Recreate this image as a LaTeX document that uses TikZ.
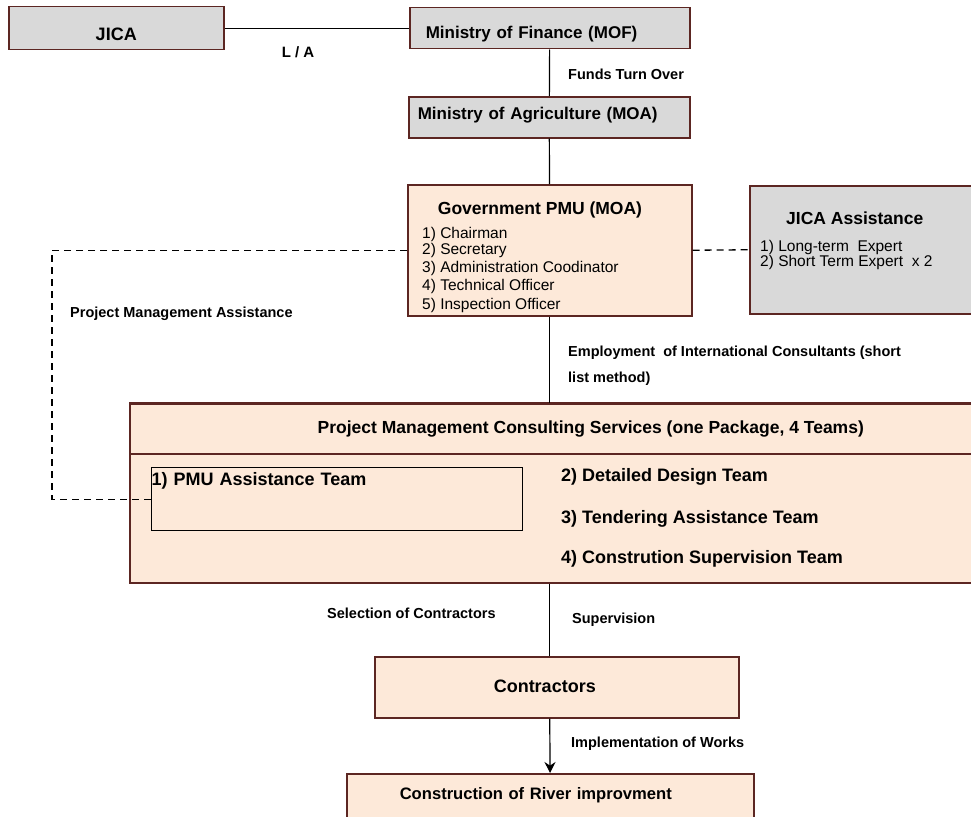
\documentclass[tikz,border=0pt]{standalone}
\usepackage{fontspec}
\setmainfont{Liberation Sans}
\usetikzlibrary{arrows.meta}

\definecolor{boxgray}{RGB}{217,217,217}
\definecolor{boxpeach}{RGB}{253,233,217}
\definecolor{boxedge}{RGB}{92,38,34}

\begin{document}
\begin{tikzpicture}[
        x=1pt, y=-1pt,
        box/.style={
            draw=boxedge,
            line width=1.5pt,
            anchor=north west,
            inner xsep=0pt,
            inner ysep=0pt
        },
        office/.style={
            box,
            fill=boxgray,
            font=\fontsize{17}{20}\selectfont\bfseries
        },
        unit/.style={
            box,
            fill=boxpeach,
            font=\fontsize{18}{21}\selectfont\bfseries,
            align=center
        },
        heading/.style={
            font=\fontsize{17.5}{21}\selectfont\bfseries,
            inner sep=0pt
        },
        members/.style={
            font=\fontsize{15.5}{18.3}\selectfont,
            align=left,
            inner sep=0pt,
            anchor=north west
        },
        team/.style={
            font=\fontsize{18}{21}\selectfont\bfseries,
            inner sep=0pt,
            anchor=base west
        },
        caption/.style={
            font=\fontsize{14.5}{26}\selectfont\bfseries,
            inner sep=0pt,
            anchor=base west
        },
        relation/.style={line width=1.2pt, draw=black},
        assist/.style={line width=1.3pt, draw=black,
            dash pattern=on 7pt off 5pt}
    ]
        \fill[white] (0,0) rectangle (971,816);
        \path[use as bounding box] (0,0) rectangle (971,816);
        \clip (0,0) rectangle (971,816);

        % Loan and funding chain
        \node[office, minimum width=215pt, minimum height=43pt,
            text width=215pt, align=center, text height=33.5pt,
            text depth=9.5pt, font=\fontsize{18}{21}\selectfont\bfseries]
            (jica) at (8,6) {JICA};
        \node[office, minimum width=280pt, inner xsep=16pt,
            text width=248pt, align=left, text height=31pt,
            text depth=10pt] (mof) at (409,7) {Ministry of Finance (MOF)};
        \node[office, minimum width=281pt, inner xsep=9pt,
            text width=263pt, align=left, text height=23pt,
            text depth=18pt] (moa) at (408,96)
            {Ministry of Agriculture (MOA)};

        % Government PMU and JICA support
        \node[unit, minimum width=284pt, minimum height=131pt]
            (govpmu) at (407,184) {};
        \node[heading, anchor=base] (govtitle) at (540,214)
            {Government PMU (MOA)};
        \node[members] (govlist) at (422,227) {1) Chairman\\[-2.6pt]
            2) Secretary\\
            3) Administration Coodinator\\
            4) Technical Officer\\
            5) Inspection Officer};

        \node[office, minimum width=251pt, minimum height=128pt]
            (jicaasst) at (749,185) {};
        \node[heading, anchor=base west] (jicatitle) at (786,224.3)
            {JICA Assistance};
        \node[members, font=\fontsize{15.5}{15.7}\selectfont]
            (jicalist) at (760,239.7)
            {1) Long-term\ \ Expert\\
            2) Short Term Expert\ \ x 2};

        % Consulting services package
        \node[unit, minimum width=922pt, minimum height=50pt,
            font=\fontsize{17.5}{21}\selectfont\bfseries]
            (pmcshead) at (129,403)
            {Project Management Consulting Services (one Package, 4 Teams)};
        \node[unit, minimum width=922pt, minimum height=129pt]
            (pmcs) at (129,453) {};
        \draw[boxedge, line width=2.6pt]
            (pmcshead.north west) -- (pmcshead.north east);

        \node[draw=black, line width=1.4pt, anchor=north west,
            inner sep=0pt, minimum width=371pt, text width=371pt,
            align=left, text height=17.5pt, text depth=45.5pt,
            font=\fontsize{18}{21}\selectfont\bfseries]
            (pmuteam) at (151,467) {1) PMU Assistance Team};
        \node[team] (design) at (561,481.5) {2) Detailed Design Team};
        \node[team] (tender) at (561,523.5) {3) Tendering Assistance Team};
        \node[team] (supervise) at (561,563.5)
            {4) Constrution Supervision Team};

        % Works
        \node[unit, minimum width=364pt, inner xsep=119pt,
            text width=126pt, align=left, text height=35.5pt,
            text depth=25.5pt] (contractors) at (374,656) {Contractors};
        \node[unit, minimum width=407pt, inner xsep=53pt,
            text width=301pt, align=left, text height=26pt,
            text depth=36pt, font=\fontsize{16.6}{20}\selectfont\bfseries]
            (river) at (346,773) {Construction of River improvment};

        % Connectors
        \draw[relation] (jica) -- (mof);
        \draw[relation] (mof) -- (moa);
        \draw[relation] (moa) -- (govpmu);
        \draw[relation] (govpmu) -- (govpmu |- pmcshead.north);
        \draw[relation] (govpmu |- pmcs.south)
            -- (govpmu |- contractors.north);
        \draw[relation, -{Stealth[length=11pt, width=11pt]}]
            (contractors.south -| govpmu) -- (river);

        \draw[assist] (govpmu.west) -- ++(-355,0) |- (pmuteam.west);
        \draw[assist] (govpmu.east) -- (jicaasst.west);

        % Connector labels
        \node[caption, anchor=base, font=\fontsize{15}{18}\selectfont\bfseries]
            (loan) at (298,57.2) {L / A};
        \node[caption] (funds) at (568,79.2) {Funds Turn Over};
        \node[caption] (pmassist) at (70,317.2)
            {Project Management Assistance};
        \node[caption, anchor=north west, align=left] (employ)
            at (568,345.6)
            {Employment\ \ of International Consultants (short\\
            list method)};
        \node[caption] (selection) at (327,618.2)
            {Selection of Contractors};
        \node[caption] (supervision) at (572,623.2) {Supervision};
        \node[caption] (works) at (571,747.2) {Implementation of Works};
\end{tikzpicture}
\end{document}
